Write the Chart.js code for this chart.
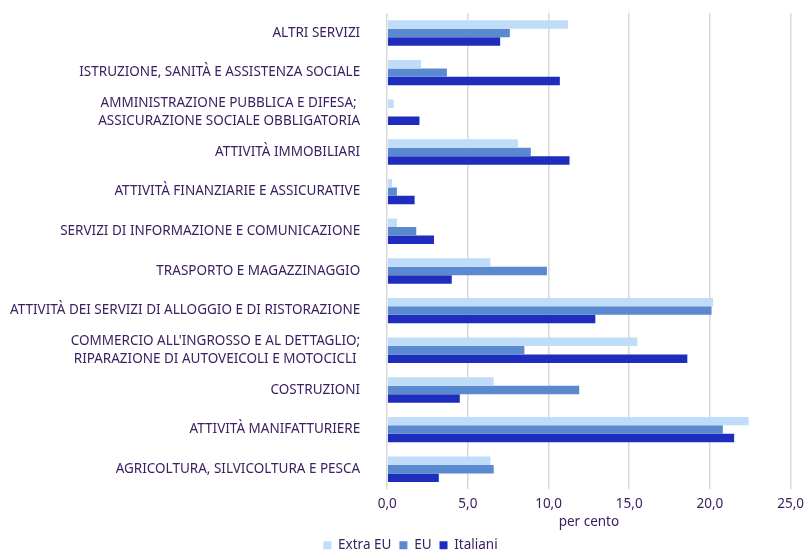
<!DOCTYPE html>
<html>
<head>
<meta charset="utf-8">
<script src="https://cdn.jsdelivr.net/npm/chart.js@4/dist/chart.umd.min.js"></script>
<style>
    html, body { margin: 0; padding: 0; background: #fff; }
    .chart-wrap { width: 811px; height: 551px; }
</style>
</head>
<body>
<div class="chart-wrap"><canvas id="myChart"></canvas></div>
<script>
const categories = [
    'ALTRI SERVIZI',
    'ISTRUZIONE, SANITÀ E ASSISTENZA SOCIALE',
    ['AMMINISTRAZIONE PUBBLICA E DIFESA; ', 'ASSICURAZIONE SOCIALE OBBLIGATORIA'],
    'ATTIVITÀ IMMOBILIARI',
    'ATTIVITÀ FINANZIARIE E ASSICURATIVE',
    'SERVIZI DI INFORMAZIONE E COMUNICAZIONE',
    'TRASPORTO E MAGAZZINAGGIO',
    'ATTIVITÀ DEI SERVIZI DI ALLOGGIO E DI RISTORAZIONE',
    ['COMMERCIO ALL\'INGROSSO E AL DETTAGLIO;', 'RIPARAZIONE DI AUTOVEICOLI E MOTOCICLI '],
    'COSTRUZIONI',
    'ATTIVITÀ MANIFATTURIERE',
    'AGRICOLTURA, SILVICOLTURA E PESCA'
];
const extraEU = [11.2, 2.1, 0.4, 8.1, 0.3, 0.6, 6.4, 20.2, 15.5, 6.6, 22.4, 6.4];
const eu = [7.6, 3.7, 0, 8.9, 0.6, 1.8, 9.9, 20.1, 8.5, 11.9, 20.8, 6.6];
const italiani = [7.0, 10.7, 2.0, 11.3, 1.7, 2.9, 4.0, 12.9, 18.6, 4.5, 21.5, 3.2];
const xTicks = [0, 5, 10, 15, 20, 25];

const textColor = '#3a2060';
const fontFamily = 'Noto Sans';

const myChart = () => {
    new Chart('myChart', {
        type: 'bar',
        data: {
            labels: categories,
            datasets: [
                { label: 'Extra EU', data: extraEU, backgroundColor: '#bfdcf8' },
                { label: 'EU', data: eu, backgroundColor: '#5b89cf' },
                { label: 'Italiani', data: italiani, backgroundColor: '#1f2dbe' }
            ]
        },
        options: {
            indexAxis: 'y',
            responsive: true,
            maintainAspectRatio: false,
            animation: false,
            layout: { padding: { left: 6, right: -4, top: 4, bottom: -11 } },
            datasets: {
                bar: { barPercentage: 1, categoryPercentage: 0.64, borderWidth: 0 }
            },
            scales: {
                x: {
                    min: 0,
                    max: 25,
                    afterBuildTicks: (axis) => {
                        axis.ticks = xTicks.map(v => ({ value: v }));
                    },
                    ticks: {
                        color: textColor,
                        font: { family: fontFamily, size: 13.5 },
                        padding: 7,
                        callback: (v) => v.toFixed(1).replace('.', ',')
                    },
                    grid: { color: '#d9d9d9', lineWidth: 1.5, drawTicks: false },
                    border: { display: false },
                    title: {
                        display: true,
                        text: 'per cento',
                        color: textColor,
                        font: { family: fontFamily, size: 13.5 },
                        padding: { top: -5, bottom: 0 }
                    }
                },
                y: {
                    ticks: {
                        color: textColor,
                        font: { family: fontFamily, size: 13.5, lineHeight: 1.35 },
                        padding: 4,
                        autoSkip: false
                    },
                    // invisible tick marks keep the gap between labels and bars
                    grid: {
                        drawOnChartArea: false,
                        drawTicks: true,
                        tickLength: 23,
                        color: 'rgba(0,0,0,0)'
                    },
                    border: { display: false }
                }
            },
            plugins: {
                legend: {
                    position: 'bottom',
                    labels: {
                        color: textColor,
                        font: { family: fontFamily, size: 13.5 },
                        boxWidth: 8,
                        boxHeight: 8,
                        padding: 8
                    }
                },
                tooltip: { enabled: false }
            }
        }
    });
}

myChart();
</script>
</body>
</html>
